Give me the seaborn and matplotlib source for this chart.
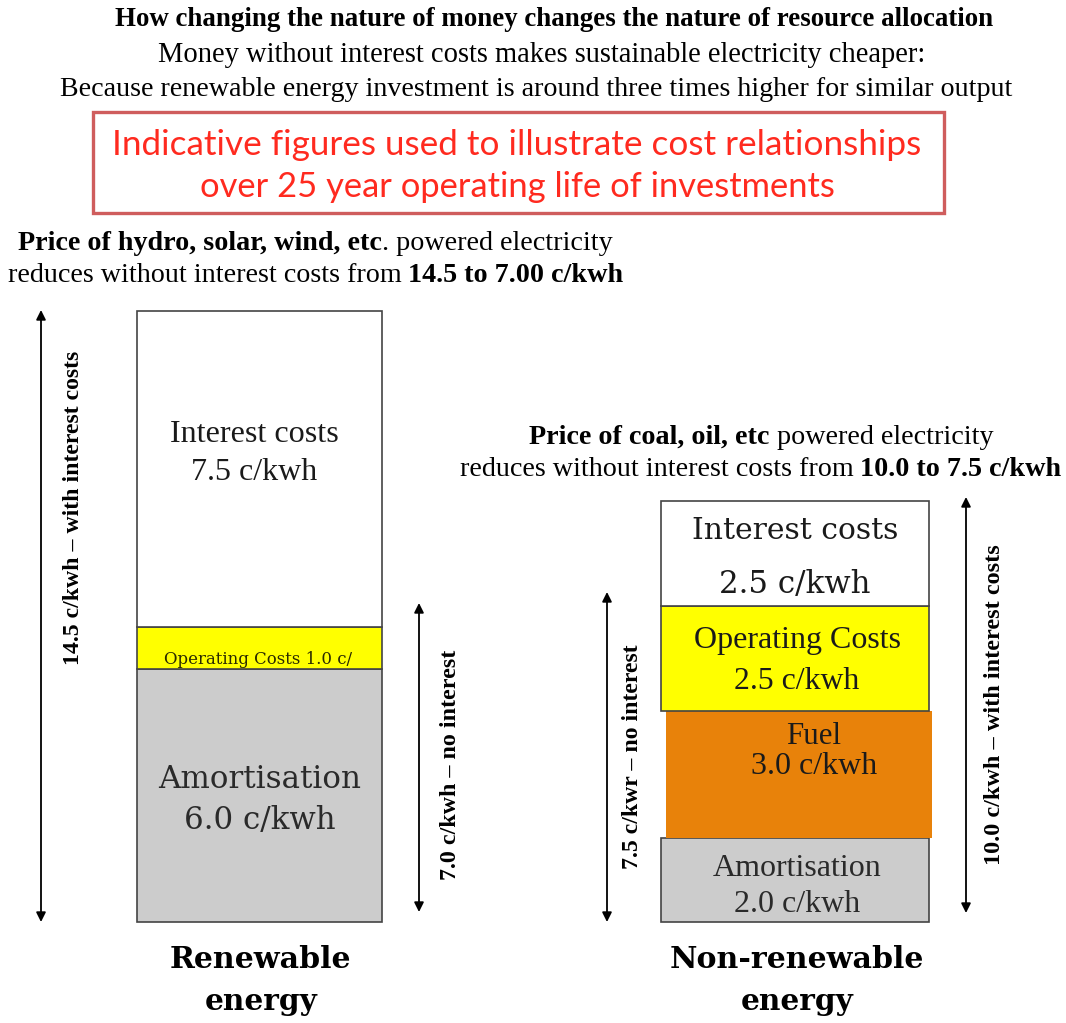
import matplotlib
matplotlib.use("Agg")
import matplotlib.pyplot as plt
import seaborn as sns
import numpy as np
from matplotlib.patches import Rectangle, FancyArrowPatch

# ---------------- data ----------------
energy = ["Renewable energy", "Non-renewable energy"]
amortisation = [6.0, 2.0]
fuel = [0.0, 3.0]
operating = [1.0, 2.5]
interest = [7.5, 2.5]

title = "How changing the nature of money changes the nature of resource allocation"
subtitle1 = "Money without interest costs makes sustainable electricity cheaper:"
subtitle2 = "Because renewable energy investment is around three times higher for similar output"
note1 = "Indicative figures used to illustrate cost relationships"
note2 = "over 25 year operating life of investments"

# ---------------- style ----------------
W, H = 1066, 1023
TIMES = "Liberation Serif"
CAMB = "DejaVu Serif"
CALI = "Lato"
EDGE = "#444444"
GRAY = "#cccccc"
YELLOW = "#ffff00"
ORANGE = "#e8820a"

fig = plt.figure(figsize=(W / 100, H / 100), dpi=100)
ax = fig.add_axes([0, 0, 1, 1])
renderer = fig.canvas.get_renderer()

# pixel mapping of the data axes
X0_PX, X1_PX = 259.5, 795.0
XS = X1_PX - X0_PX
Y0_PX, YS = 922.0, 42.14


def measure(s, size, weight, family):
    t = fig.text(0, 0, s, fontsize=size, fontweight=weight, family=family)
    w = t.get_window_extent(renderer).width
    t.remove()
    return w


def fit_size(s, width, weight="normal", family=TIMES):
    return 20.0 * width / measure(s, 20.0, weight, family)


def line(segs, xc, yc, width, family=TIMES, color="black"):
    base = 20.0
    ws = []
    for s, wgt, sp in segs:
        w = measure(s, base, wgt, family)
        w_sp = (measure("a a", base, wgt, family) - measure("aa", base, wgt, family)) if sp else 0.0
        ws.append((w_sp, w))
    total = sum(a + b for a, b in ws)
    k = width / total
    x = xc - width / 2
    for (s, wgt, sp), (w_sp, w) in zip(segs, ws):
        x += w_sp * k
        fig.text(x / W, 1 - yc / H, s, fontsize=base * k, fontweight=wgt, family=family,
                 color=color, ha="left", va="center")
        x += w * k


def vtext(s, xc, yc, length, weight="bold", family=TIMES):
    size = fit_size(s, length, weight, family)
    fig.text(xc / W, 1 - yc / H, s, fontsize=size, fontweight=weight, family=family,
             rotation=90, ha="center", va="center")


def arrow(x, y1, y2):
    a = FancyArrowPatch((x / W, 1 - y1 / H), (x / W, 1 - y2 / H), transform=fig.transFigure,
                        arrowstyle="<|-|>", mutation_scale=14, lw=1.3, color="black",
                        shrinkA=0, shrinkB=0)
    fig.patches.append(a)


# ---------------- stacked bars (seaborn) ----------------
layers = [
    ("Amortisation", amortisation, GRAY, EDGE),
    ("Fuel", fuel, ORANGE, "none"),
    ("Operating Costs", operating, YELLOW, EDGE),
    ("Interest costs", interest, "white", EDGE),
]
bottom = np.zeros(2)
bar_patches = {}
for name, vals, fc, ec in layers:
    n0 = len(ax.patches)
    sns.barplot(x=energy, y=list(vals), order=energy, ax=ax, color=fc, saturation=1,
                edgecolor=ec, linewidth=1.2, bottom=bottom.copy(), width=0.46,
                errorbar=None)
    new = ax.patches[n0:]
    bar_patches[name] = new
    # per-bar widths
    w0 = 245 / XS
    new[0].set_x(0 - w0 / 2)
    new[0].set_width(w0)
    if name == "Fuel":
        new[1].set_x(1 + (666 - X1_PX) / XS)
        new[1].set_width(266 / XS)
    else:
        w1 = 268 / XS
        new[1].set_x(1 - w1 / 2)
        new[1].set_width(w1)
    bottom += np.array(vals)

ax.set_xlim(-X0_PX / XS, (W - X0_PX) / XS)
ax.set_ylim(-(H - Y0_PX) / YS, Y0_PX / YS)
ax.axis("off")

# ---------------- bar labels ----------------
def seg(name, i):
    order = ["Amortisation", "Fuel", "Operating Costs", "Interest costs"]
    vals = {"Amortisation": amortisation, "Fuel": fuel,
            "Operating Costs": operating, "Interest costs": interest}
    b = sum(vals[o][i] for o in order[:order.index(name)])
    return b, b + vals[name][i]


def blabel(name, i, texts, dx_px=0.0, family=TIMES, color="#1a1a1a", clip=False):
    b, t = seg(name, i)
    for s, frac, width in texts:
        y = t - frac * (t - b)
        size = fit_size(s, width, "normal", family)
        tx = ax.text(i + dx_px / XS, y, s, fontsize=size, family=family, color=color,
                     ha="center", va="center")
        if clip:
            tx.set_clip_path(bar_patches[name][i])

fmt = "{:.1f} c/kwh"
blabel("Interest costs", 0, [("Interest costs", 0.39, 168), (fmt.format(interest[0]), 0.51, 126)], dx_px=-5)
blabel("Operating Costs", 0, [("Operating Costs %.1f c/" % operating[0], 0.78, 187)], dx_px=-1,
       family=CAMB, color="#2a2a00", clip=True)
blabel("Amortisation", 0, [("Amortisation", 0.437, 203), (fmt.format(amortisation[0]), 0.60, 152)],
       family=CAMB, color="#2a2a2a")
blabel("Interest costs", 1, [("Interest costs", 0.29, 205), (fmt.format(interest[1]), 0.80, 152)],
       dx_px=0, family=CAMB)
blabel("Operating Costs", 1, [("Operating Costs", 0.33, 207), (fmt.format(operating[1]), 0.72, 125)], dx_px=2)
blabel("Fuel", 1, [("Fuel", 0.2, 55), (fmt.format(fuel[1]), 0.44, 126)], dx_px=19)
blabel("Amortisation", 1, [("Amortisation", 0.36, 169), (fmt.format(amortisation[1]), 0.79, 126)],
       dx_px=2, color="#2a2a2a")

# category labels
line([("Renewable", "bold", False)], 261, 960, 182, family=CAMB)
line([("energy", "bold", False)], 261, 1001, 113, family=CAMB)
line([("Non-renewable", "bold", False)], 797, 960, 255, family=CAMB)
line([("energy", "bold", False)], 797, 1001, 113, family=CAMB)

# ---------------- titles ----------------
line([(title, "bold", False)], 554, 20, 878)
line([(subtitle1, "normal", False)], 543, 55, 770)
line([(subtitle2, "normal", False)], 537, 89, 953)

box = Rectangle((93 / W, 1 - 213 / H), (944 - 93) / W, (213 - 112) / H, transform=fig.transFigure,
                facecolor="white", edgecolor="#cf5d5d", lw=2.4)
fig.patches.append(box)
line([(note1, "normal", False)], 518, 145, 812, family=CALI, color="#ff2a1f")
line([(note2, "normal", False)], 518, 187, 636, family=CALI, color="#ff2a1f")

line([("Price of hydro, solar, wind, etc", "bold", False), (". powered electricity", "normal", False)],
     315, 243, 594)
line([("reduces without interest costs from", "normal", False), ("14.5 to 7.00 c/kwh", "bold", True)],
     315, 275, 614)
line([("Price of coal, oil, etc", "bold", False), ("powered electricity", "normal", True)],
     761, 437, 464)
line([("reduces without interest costs from", "normal", False), ("10.0 to 7.5 c/kwh", "bold", True)],
     760, 469, 600)

# ---------------- arrows & rotated labels ----------------
arrow(41, 310, 922)
arrow(419, 603, 912)
arrow(607, 592, 922)
arrow(966, 497, 913)
vtext("14.5 c/kwh \u2013 with interest costs", 74, 508, 313)
vtext("7.0 c/kwh \u2013 no interest", 450, 765, 230)
vtext("7.5 c/kwr \u2013 no interest", 633, 757, 225)
vtext("10.0 c/kwh \u2013 with interest costs", 995, 705, 320)

fig.savefig("out.png", dpi=100)
